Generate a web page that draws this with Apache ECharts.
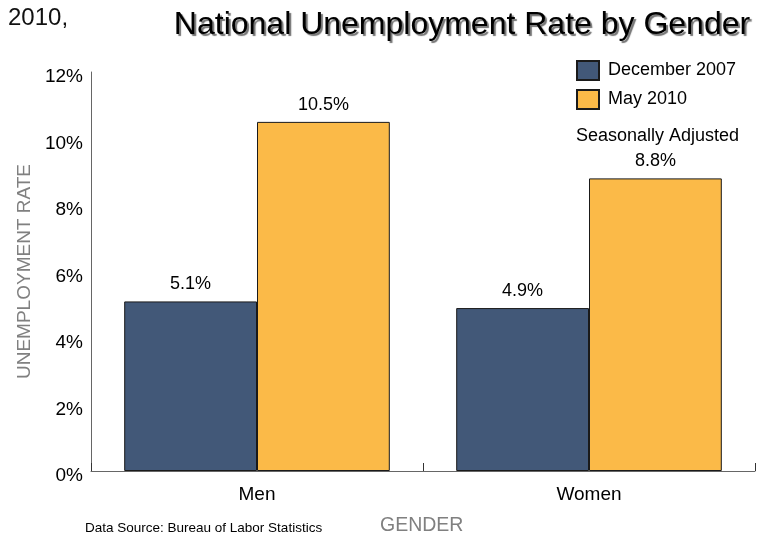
<!DOCTYPE html>
<html><head><meta charset="utf-8">
<script src="https://cdn.jsdelivr.net/npm/echarts@6/dist/echarts.min.js"></script>
<style>html,body{margin:0;padding:0;background:#fff}#c{width:760px;height:535px}</style>
</head><body><div id="c"></div>
<script>
const categories = ['Men', 'Women'];
const seriesNames = ['December 2007', 'May 2010'];
const dec2007 = [5.1, 4.9];
const may2010 = [10.5, 8.8];
const yTicks = [0, 2, 4, 6, 8, 10, 12];

const chart = echarts.init(document.getElementById('c'));
const font = 'Liberation Sans, Arial, sans-serif';
const barBorder = {borderColor: '#1a1a1a', borderWidth: 1};
chart.setOption({
  animation: false,
  textStyle: {fontFamily: font},
  title: [
    {text: 'National Unemployment Rate by Gender', left: 457, top: 4, textAlign: 'center',
     textStyle: {fontFamily: font, fontSize: 32, fontWeight: 'normal', color: '#000',
       textShadowColor: 'rgba(0,0,0,0.55)', textShadowOffsetX: 2, textShadowOffsetY: 2, textShadowBlur: 1}},
    {text: '2010,', left: 3, top: 1, textStyle: {fontFamily: font, fontSize: 24, fontWeight: 'normal', color: '#111'}},
    {text: 'Seasonally Adjusted', left: 571, top: 122, textStyle: {fontFamily: font, fontSize: 18, fontWeight: 'normal', color: '#000'}},
    {text: 'Data Source: Bureau of Labor Statistics', left: 80, top: 516, textStyle: {fontFamily: font, fontSize: 13.5, fontWeight: 'normal', color: '#000'}},
    {text: 'GENDER', left: 375, top: 511, textStyle: {fontFamily: font, fontSize: 19.5, fontWeight: 'normal', color: '#808080'}}
  ],
  legend: {
    orient: 'vertical', left: 571, top: 55, itemWidth: 22, itemHeight: 19, itemGap: 8,
    icon: 'rect',
    data: seriesNames,
    textStyle: {fontFamily: font, fontSize: 18, color: '#000', padding: [0, 0, 0, 4]}
  },
  grid: {left: 91, right: 5, top: 72, bottom: 64, containLabel: false},
  xAxis: {
    type: 'category', data: categories,
    axisLine: {lineStyle: {color: '#666', width: 1}},
    axisTick: {show: true, inside: true, alignWithLabel: false, length: 8, lineStyle: {color: '#333'}},
    axisLabel: {fontSize: 19, color: '#000', margin: 14}
  },
  yAxis: {
    type: 'value', min: 0, max: 12, interval: 2,
    name: 'UNEMPLOYMENT RATE', nameLocation: 'middle', nameGap: 54, nameRotate: 90,
    nameTextStyle: {fontSize: 19, color: '#808080', fontFamily: font},
    splitLine: {show: false},
    axisLine: {show: true, lineStyle: {color: '#666'}},
    axisTick: {show: false},
    axisLabel: {color: '#000', margin: 8,
      formatter: v => yTicks.includes(v) ? '{a|' + v + '%}' : '',
      rich: {a: {fontSize: 19, color: '#000', fontFamily: font, padding: [10, 0, 0, 0]}}}
  },
  series: [
    {name: seriesNames[0], type: 'bar', data: dec2007, barWidth: '40%', barGap: '0%',
     itemStyle: Object.assign({color: '#425878'}, barBorder),
     label: {show: true, position: 'top', distance: 8, fontSize: 18, color: '#000', formatter: p => p.value.toFixed(1) + '%'}},
    {name: seriesNames[1], type: 'bar', data: may2010, barWidth: '40%', barGap: '0%',
     itemStyle: Object.assign({color: '#FBBA48'}, barBorder),
     label: {show: true, position: 'top', distance: 8, fontSize: 18, color: '#000', formatter: p => p.value.toFixed(1) + '%'}}
  ]
});
</script></body></html>
